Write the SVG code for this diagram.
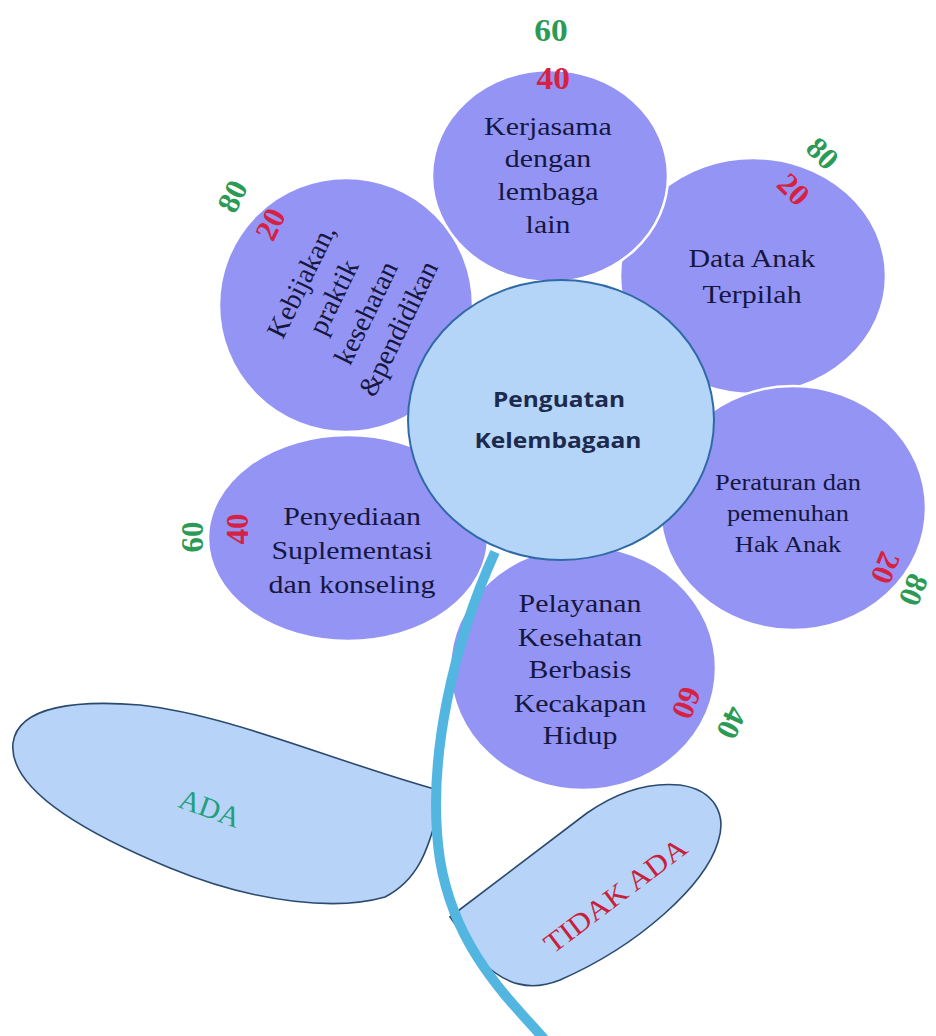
<svg xmlns="http://www.w3.org/2000/svg" width="936" height="1036" viewBox="0 0 936 1036">
<style>
.petal{fill:#9494f5;stroke:#ffffff;stroke-width:2.5}
.leaf{fill:#b7d3f7;stroke:#2b4a6e;stroke-width:1.6}
.center{fill:#b4d4f8;stroke:#2f6aa6;stroke-width:2}
.pt{font-family:"Liberation Serif","Times New Roman",serif;font-size:26px;fill:#15173f;text-anchor:middle}
.pts{font-size:23px}
.num{font-family:"Liberation Serif","Times New Roman",serif;font-size:31px;font-weight:bold;text-anchor:middle}
.g{fill:#2b9a55}
.r{fill:#d62142}
.ct{font-family:"Open Sans","Liberation Sans",sans-serif;font-size:21px;font-weight:bold;fill:#1c2a4e;text-anchor:middle}
</style>
<rect width="936" height="1036" fill="#ffffff"/>

<g id="leaf-ada">
<path class="leaf" d="M 13 743 C 18 705, 80 700, 140 705 C 230 715, 330 760, 438 790 L 438 812 C 428 850, 418 880, 385 897 C 340 910, 260 905, 170 868 C 90 835, 8 790, 13 743 Z"/>
<text x="0" y="0" transform="translate(210 808) rotate(20)" dy="10" font-family="'Liberation Serif','Times New Roman',serif" font-size="29" fill="#1f9f7c" text-anchor="middle">ADA</text>
</g>

<g id="leaf-tidak-ada">
<path class="leaf" d="M 450 917 L 587 813 C 620 790, 650 782, 680 785 C 715 790, 727 815, 718 842 C 705 885, 640 945, 560 980 C 530 992, 505 985, 480 960 Z"/>
<text x="0" y="0" transform="translate(615 895) rotate(-37)" dy="10" font-family="'Liberation Serif','Times New Roman',serif" font-size="28" fill="#c8203c" text-anchor="middle" textLength="171" lengthAdjust="spacingAndGlyphs">TIDAK ADA</text>
</g>

<g id="petal-kebijakan">
<circle class="petal" cx="346" cy="305" r="127"/>
<g transform="translate(350 305) rotate(-64)">
<text class="pt" x="0" y="-45" style="font-size:28px">Kebijakan,</text>
<text class="pt" x="0" y="-9" style="font-size:28px">praktik</text>
<text class="pt" x="0" y="27" style="font-size:28px">kesehatan</text>
<text class="pt" x="0" y="63" style="font-size:28px">&amp;pendidikan</text>
</g>
<text class="num g" transform="translate(232 196) rotate(-64)" dy="0.35em">80</text>
<text class="num r" transform="translate(270 224) rotate(-64)" dy="0.35em">20</text>
</g>

<g id="petal-data-anak">
<ellipse class="petal" cx="753" cy="276" rx="133" ry="118"/>
<g transform="translate(752 0) scale(1.15 1)">
<text class="pt" x="0" y="267">Data Anak</text>
<text class="pt" x="0" y="303">Terpilah</text>
</g>
<text class="num g" transform="translate(823 153) rotate(45)" dy="0.35em">80</text>
<text class="num r" transform="translate(794 189) rotate(45)" dy="0.35em">20</text>
</g>

<g id="petal-kerjasama">
<ellipse class="petal" cx="550" cy="176" rx="118" ry="106"/>
<g transform="translate(548 0) scale(1.15 1)">
<text class="pt" x="0" y="135">Kerjasama</text>
<text class="pt" x="0" y="167">dengan</text>
<text class="pt" x="0" y="200">lembaga</text>
<text class="pt" x="0" y="233">lain</text>
</g>
<g transform="translate(551 0) scale(1.08 1)">
<text class="num g" x="0" y="41">60</text>
<text class="num r" x="2" y="89">40</text>
</g>
</g>

<g id="petal-peraturan">
<ellipse class="petal" cx="793" cy="508" rx="133" ry="122"/>
<g transform="translate(788 0) scale(1.15 1)">
<text class="pt pts" x="0" y="490">Peraturan dan</text>
<text class="pt pts" x="0" y="521">pemenuhan</text>
<text class="pt pts" x="0" y="552">Hak Anak</text>
</g>
<text class="num r" transform="translate(886 568) rotate(112)" dy="0.35em">20</text>
<text class="num g" transform="translate(914 590) rotate(112)" dy="0.35em">80</text>
</g>

<g id="petal-penyediaan">
<ellipse class="petal" cx="348" cy="538" rx="140" ry="103"/>
<g transform="translate(352 0) scale(1.15 1)">
<text class="pt" x="0" y="525">Penyediaan</text>
<text class="pt" x="0" y="559">Suplementasi</text>
<text class="pt" x="0" y="593">dan konseling</text>
</g>
<text class="num g" transform="translate(192 537) rotate(-90)" dy="0.35em">60</text>
<text class="num r" transform="translate(237 529) rotate(-90)" dy="0.35em">40</text>
</g>

<g id="petal-pelayanan">
<ellipse class="petal" cx="583" cy="668" rx="133" ry="122"/>
<g transform="translate(580 0) scale(1.15 1)">
<text class="pt" x="0" y="612">Pelayanan</text>
<text class="pt" x="0" y="646">Kesehatan</text>
<text class="pt" x="0" y="678">Berbasis</text>
<text class="pt" x="0" y="712">Kecakapan</text>
<text class="pt" x="0" y="744">Hidup</text>
</g>
<text class="num r" transform="translate(687 703) rotate(112)" dy="0.35em">60</text>
<text class="num g" transform="translate(732 723) rotate(115)" dy="0.35em">40</text>
</g>

<g id="connectors">
<path d="M 495 552 C 455 640, 425 760, 440 860 C 455 950, 510 1000, 545 1040" fill="none" stroke="#52b6e0" stroke-width="10" stroke-linecap="butt"/>
</g>

<g id="center">
<ellipse class="center" cx="561" cy="420" rx="153" ry="140"/>
<text class="ct" x="559" y="407" textLength="132" lengthAdjust="spacingAndGlyphs">Penguatan</text>
<text class="ct" x="558" y="448" textLength="167" lengthAdjust="spacingAndGlyphs">Kelembagaan</text>
</g>
</svg>
